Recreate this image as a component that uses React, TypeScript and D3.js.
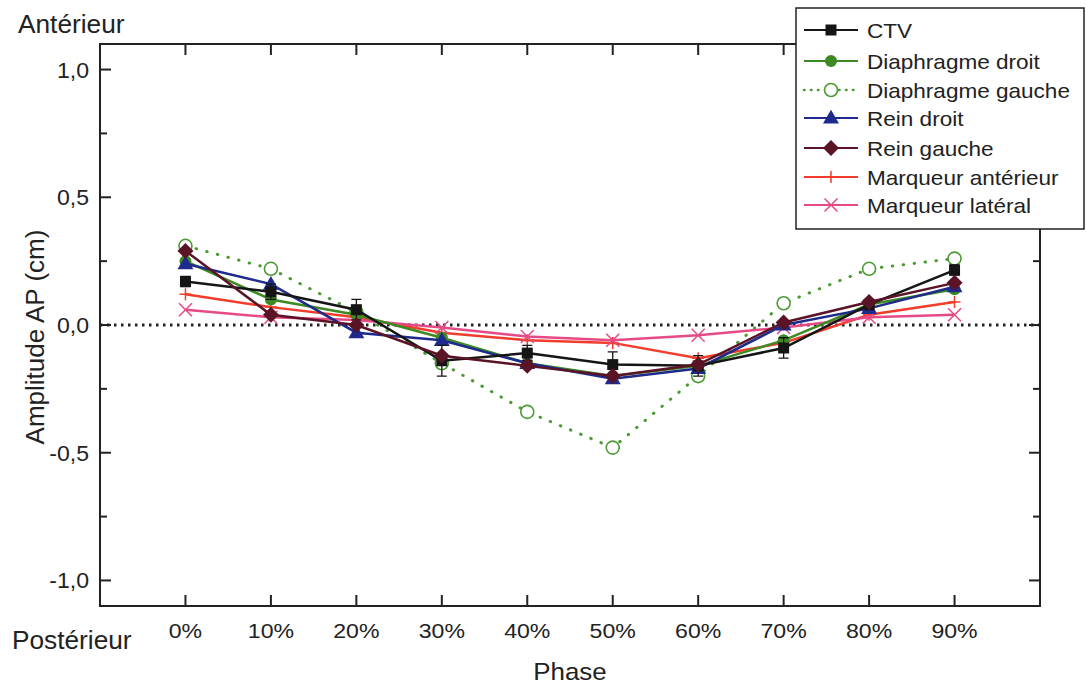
import React from "react";
import * as d3 from "d3";

const phases = [0, 10, 20, 30, 40, 50, 60, 70, 80, 90];
const xTickLabels = ["0%", "10%", "20%", "30%", "40%", "50%", "60%", "70%", "80%", "90%"];
const yTicks = [-1.0, -0.5, 0.0, 0.5, 1.0];
const yMinorTicks = [-0.75, -0.25, 0.25, 0.75];

const ctv = [0.17, 0.13, 0.06, -0.14, -0.11, -0.155, -0.16, -0.09, 0.08, 0.215];
const ctvErr = [0.02, 0.03, 0.04, 0.06, 0.03, 0.05, 0.04, 0.04, 0.02, 0.02];
const diaphDroit = [0.25, 0.1, 0.04, -0.05, -0.15, -0.2, -0.16, -0.06, 0.08, 0.14];
const diaphGauche = [0.31, 0.22, 0.05, -0.15, -0.34, -0.48, -0.2, 0.085, 0.22, 0.26];
const reinDroit = [0.24, 0.16, -0.03, -0.06, -0.15, -0.21, -0.17, 0.0, 0.065, 0.15];
const reinGauche = [0.29, 0.04, 0.0, -0.12, -0.16, -0.2, -0.155, 0.01, 0.09, 0.165];
const marqAnt = [0.12, 0.07, 0.03, -0.03, -0.06, -0.07, -0.13, -0.07, 0.04, 0.09];
const marqLat = [0.06, 0.03, 0.02, -0.01, -0.045, -0.06, -0.04, -0.01, 0.03, 0.04];

type Series = {
  name: string;
  values: number[];
  color: string;
  marker: string;
  dotted?: boolean;
  err?: number[];
};

const series: Series[] = [
  { name: "CTV", values: ctv, color: "#151515", marker: "square", err: ctvErr },
  { name: "Diaphragme droit", values: diaphDroit, color: "#3d8a22", marker: "circle" },
  { name: "Diaphragme gauche", values: diaphGauche, color: "#4c9a34", marker: "openCircle", dotted: true },
  { name: "Rein droit", values: reinDroit, color: "#1e2a8c", marker: "triangle" },
  { name: "Rein gauche", values: reinGauche, color: "#5a1426", marker: "diamond" },
  { name: "Marqueur antérieur", values: marqAnt, color: "#f23c2c", marker: "plus" },
  { name: "Marqueur latéral", values: marqLat, color: "#e64a86", marker: "cross" },
];

const drawOrder = [2, 5, 6, 1, 3, 0, 4];

const W = 1086;
const H = 687;
const left = 100;
const right = 1040;
const top = 44;
const bottom = 606;

const x = d3.scaleLinear().domain([-10, 100]).range([left, right]);
const y = d3.scaleLinear().domain([-1.1, 1.1]).range([bottom, top]);

const FONT = "Liberation Sans, Arial, sans-serif";
const TXT = "#222";

function SText({
  x: tx,
  y: ty,
  size,
  sx = 1.1,
  anchor = "start",
  children,
}: {
  x: number;
  y: number;
  size: number;
  sx?: number;
  anchor?: string;
  children: React.ReactNode;
}) {
  return (
    <text transform={`translate(${tx},${ty}) scale(${sx},1)`} fontSize={size} fill={TXT} textAnchor={anchor as any}>
      {children}
    </text>
  );
}

function Marker({ type, cx, cy, color }: { type: string; cx: number; cy: number; color: string }) {
  switch (type) {
    case "square":
      return <rect x={cx - 5.5} y={cy - 5.5} width={11} height={11} fill={color} />;
    case "circle":
      return <circle cx={cx} cy={cy} r={6} fill={color} />;
    case "openCircle":
      return <circle cx={cx} cy={cy} r={6.5} fill="white" stroke={color} strokeWidth={1.6} />;
    case "triangle":
      return <path d={d3.symbol(d3.symbolTriangle, 110)()!} transform={`translate(${cx},${cy + 1})`} fill={color} />;
    case "diamond":
      return <path d={`M${cx},${cy - 8}L${cx + 8},${cy}L${cx},${cy + 8}L${cx - 8},${cy}Z`} fill={color} />;
    case "plus":
      return (
        <path d={`M${cx - 6},${cy}H${cx + 6}M${cx},${cy - 6}V${cy + 6}`} stroke={color} strokeWidth={1.5} fill="none" />
      );
    case "cross":
      return (
        <path
          d={`M${cx - 6.5},${cy - 6.5}L${cx + 6.5},${cy + 6.5}M${cx - 6.5},${cy + 6.5}L${cx + 6.5},${cy - 6.5}`}
          stroke={color}
          strokeWidth={1.5}
          fill="none"
        />
      );
    default:
      return null;
  }
}

export default function App() {
  const line = d3
    .line<number>()
    .x((_, i) => x(phases[i]))
    .y((d) => y(d));

  const legendX = 796;
  const legendY = 8;
  const legendRowY = [30, 61, 90, 118, 148, 177, 205];

  return (
    <svg
      width={W}
      height={H}
      style={{ position: "absolute", left: 0, top: 0, background: "white" }}
      fontFamily={FONT}
    >
      <rect x={0} y={0} width={W} height={H} fill="white" />
      {/* zero line */}
      <line
        x1={left}
        x2={right}
        y1={y(0)}
        y2={y(0)}
        stroke="#222"
        strokeWidth={3}
        strokeDasharray="2.5 4.5"
      />
      {/* series */}
      {drawOrder.map((si) => {
        const s = series[si];
        return (
          <g key={s.name}>
            <path
              d={line(s.values)!}
              fill="none"
              stroke={s.color}
              strokeWidth={s.dotted ? 3 : 2.5}
              strokeDasharray={s.dotted ? "0.5 10.5" : undefined}
              strokeLinecap={s.dotted ? "round" : "butt"}
            />
            {s.err &&
              s.values.map((v, i) => {
                const cx = x(phases[i]);
                const e = s.err![i];
                return (
                  <path
                    key={"e" + i}
                    d={`M${cx},${y(v - e)}V${y(v + e)}M${cx - 5},${y(v - e)}H${cx + 5}M${cx - 5},${y(v + e)}H${cx + 5}`}
                    stroke={s.color}
                    strokeWidth={1.3}
                    fill="none"
                  />
                );
              })}
            {s.values.map((v, i) => (
              <Marker key={i} type={s.marker} cx={x(phases[i])} cy={y(v)} color={s.color} />
            ))}
          </g>
        );
      })}
      {/* frame */}
      <rect x={left} y={top} width={right - left} height={bottom - top} fill="none" stroke="#222" strokeWidth={2} />
      {/* x ticks */}
      {phases.map((p, i) => (
        <g key={p}>
          <line x1={x(p)} x2={x(p)} y1={bottom} y2={bottom - 11} stroke="#222" strokeWidth={2} />
          <line x1={x(p)} x2={x(p)} y1={top} y2={top + 11} stroke="#222" strokeWidth={2} />
          <SText x={x(p)} y={bottom + 32} size={21} anchor="middle">
            {xTickLabels[i]}
          </SText>
        </g>
      ))}
      {/* y ticks */}
      {yTicks.map((t) => (
        <g key={t}>
          <line x1={left} x2={left + 11} y1={y(t)} y2={y(t)} stroke="#222" strokeWidth={2} />
          <line x1={right} x2={right - 11} y1={y(t)} y2={y(t)} stroke="#222" strokeWidth={2} />
          <SText x={left - 11} y={y(t) + 8} size={22} sx={1.05} anchor="end">
            {d3.format(".1f")(t).replace(".", ",").replace("−", "-")}
          </SText>
        </g>
      ))}
      {yMinorTicks.map((t) => (
        <g key={"m" + t}>
          <line x1={left} x2={left + 7} y1={y(t)} y2={y(t)} stroke="#222" strokeWidth={2} />
          <line x1={right} x2={right - 7} y1={y(t)} y2={y(t)} stroke="#222" strokeWidth={2} />
        </g>
      ))}
      {/* axis titles */}
      <SText x={570} y={680} size={24} sx={1.08} anchor="middle">
        Phase
      </SText>
      <text
        transform={`translate(44,${337}) rotate(-90)`}
        textAnchor="middle"
        fontSize={26}
        fill={TXT}
      >
        Amplitude AP (cm)
      </text>
      <SText x={18} y={33} size={25} sx={1.05}>
        Antérieur
      </SText>
      <SText x={12} y={649} size={25} sx={1.05}>
        Postérieur
      </SText>
      {/* legend */}
      <rect x={legendX} y={legendY} width={288} height={221} fill="white" stroke="#222" strokeWidth={1.5} />
      {series.map((s, i) => {
        const ly = legendRowY[i];
        return (
          <g key={"l" + s.name}>
            <line
              x1={804}
              x2={858}
              y1={ly}
              y2={ly}
              stroke={s.color}
              strokeWidth={s.dotted ? 2.6 : 2}
              strokeDasharray={s.dotted ? "0.5 6.5" : undefined}
              strokeLinecap={s.dotted ? "round" : "butt"}
            />
            <Marker type={s.marker} cx={831} cy={ly} color={s.color} />
            <SText x={867} y={ly + 7.5} size={20.5}>
              {s.name}
            </SText>
          </g>
        );
      })}
    </svg>
  );
}
